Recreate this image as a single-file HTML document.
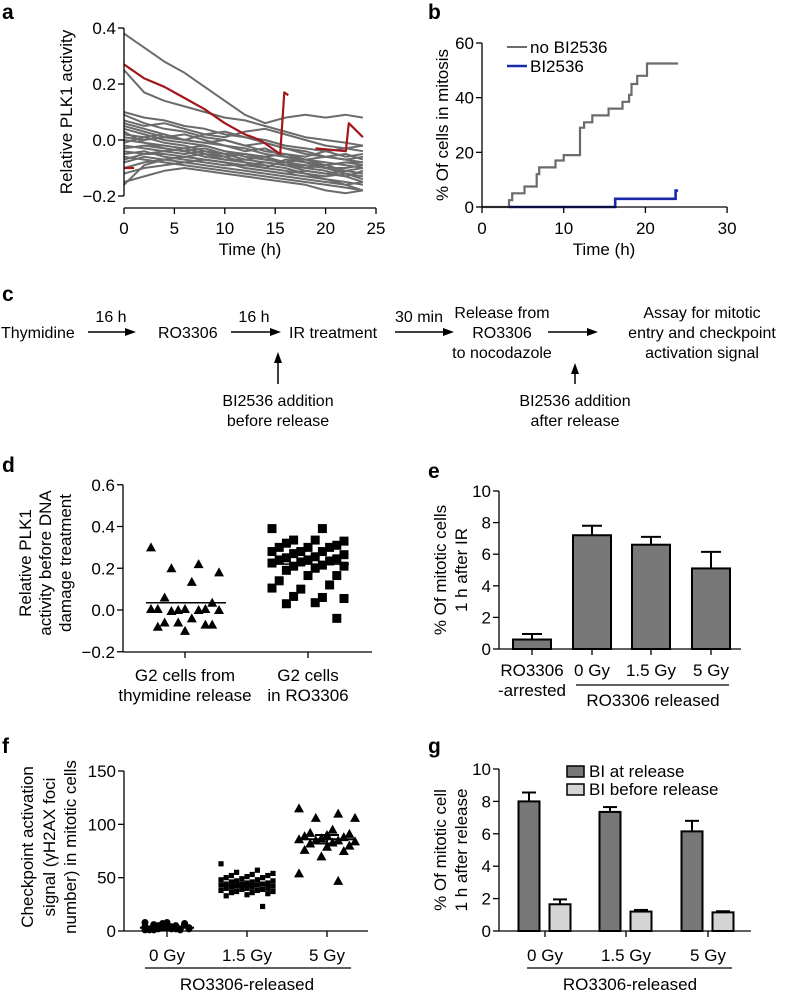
<!DOCTYPE html>
<html><head><meta charset="utf-8"><style>
html,body{margin:0;padding:0;background:#fff;}
svg{display:block;font-family:"Liberation Sans",Arial,sans-serif;}
</style></head><body>
<svg id="fig" width="788" height="993" viewBox="0 0 788 993" xmlns="http://www.w3.org/2000/svg">
<rect width="788" height="993" fill="#fff"/>
<g font-weight="bold" font-size="21" fill="#000">
<text x="2" y="19">a</text>
<text x="428" y="19">b</text>
<text x="2" y="301">c</text>
<text x="2" y="472">d</text>
<text x="428" y="478">e</text>
<text x="2" y="753">f</text>
<text x="428" y="753">g</text>
</g>
<!-- Panel c flow -->
<g font-size="16" fill="#000">
<text x="1" y="338">Thymidine</text>
<text x="111" y="322" text-anchor="middle">16 h</text>
<text x="158" y="338">RO3306</text>
<text x="254" y="322" text-anchor="middle">16 h</text>
<text x="289" y="338">IR treatment</text>
<text x="419" y="322" text-anchor="middle">30 min</text>
<text x="502" y="318" text-anchor="middle">Release from</text>
<text x="502" y="338" text-anchor="middle">RO3306</text>
<text x="502" y="358" text-anchor="middle">to nocodazole</text>
<text x="702" y="318" text-anchor="middle">Assay for mitotic</text>
<text x="702" y="338" text-anchor="middle">entry and checkpoint</text>
<text x="702" y="358" text-anchor="middle">activation signal</text>
<text x="278" y="406" text-anchor="middle">BI2536 addition</text>
<text x="278" y="426" text-anchor="middle">before release</text>
<text x="575" y="406" text-anchor="middle">BI2536 addition</text>
<text x="575" y="426" text-anchor="middle">after release</text>
<g stroke="#000" stroke-width="1.5" fill="#000">
<line x1="88" y1="332" x2="128" y2="332"/><path d="M136,332 L125,328 L125,336Z" stroke="none"/>
<line x1="231" y1="332" x2="273" y2="332"/><path d="M281,332 L270,328 L270,336Z" stroke="none"/>
<line x1="395" y1="332" x2="446" y2="332"/><path d="M454,332 L443,328 L443,336Z" stroke="none"/>
<line x1="548" y1="332" x2="590" y2="332"/><path d="M598,332 L587,328 L587,336Z" stroke="none"/>
<line x1="278" y1="384" x2="278" y2="360"/><path d="M278,352 L274,363 L282,363Z" stroke="none"/>
<line x1="575" y1="384" x2="575" y2="371"/><path d="M575,363 L571,374 L579,374Z" stroke="none"/>
</g>
</g>
<g id="pa"></g>
<g id="pb"></g>
<g id="pd"></g>
<g id="pe"></g>
<g id="pf"></g>
<g id="pg"></g>
</svg>
<script>
// ---------- Panel a data ----------
const aTimes = [0,2,4,6,8,10,12,14,16,18,20,22,23.7];
const aTraces = [
[0.38,0.33,0.28,0.24,0.19,0.14,0.09,0.06,0.08,0.09,0.08,0.09,0.08],
[0.25,0.17,0.14,0.12,0.10,0.08,0.07,0.05,0.03,0.01,0.00,-0.01,-0.02],
[0.10,0.08,0.07,0.05,0.04,0.02,0.01,0.00,-0.02,-0.03,-0.04,-0.06,-0.05],
[0.09,0.06,0.04,0.03,0.01,0.00,-0.02,-0.04,-0.05,-0.07,-0.08,-0.09,-0.10],
[0.07,0.05,0.06,0.04,0.02,0.03,0.01,-0.01,-0.03,-0.04,-0.06,-0.05,-0.07],
[0.05,0.03,0.01,0.02,0.00,-0.02,-0.03,-0.05,-0.06,-0.08,-0.09,-0.11,-0.12],
[0.04,0.02,0.00,-0.01,-0.02,-0.04,-0.05,-0.07,-0.08,-0.09,-0.10,-0.12,-0.13],
[0.02,0.01,0.02,0.00,-0.01,-0.02,-0.04,-0.03,-0.06,-0.07,-0.09,-0.08,-0.09],
[0.00,-0.01,-0.02,-0.03,-0.02,-0.04,-0.06,-0.07,-0.08,-0.10,-0.11,-0.13,-0.15],
[-0.01,0.01,-0.01,-0.02,-0.04,-0.05,-0.05,-0.06,-0.09,-0.11,-0.12,-0.11,-0.12],
[-0.02,-0.03,-0.04,-0.05,-0.04,-0.06,-0.08,-0.09,-0.10,-0.12,-0.14,-0.16,-0.18],
[-0.03,-0.02,-0.03,-0.04,-0.06,-0.07,-0.07,-0.08,-0.09,-0.09,-0.10,-0.10,-0.09],
[-0.04,-0.05,-0.05,-0.06,-0.07,-0.08,-0.10,-0.11,-0.12,-0.13,-0.14,-0.15,-0.16],
[-0.05,-0.04,-0.06,-0.07,-0.08,-0.09,-0.09,-0.10,-0.11,-0.12,-0.13,-0.12,-0.14],
[-0.06,-0.07,-0.08,-0.09,-0.10,-0.11,-0.12,-0.13,-0.14,-0.15,-0.16,-0.17,-0.18],
[-0.08,-0.06,-0.07,-0.08,-0.07,-0.08,-0.09,-0.08,-0.09,-0.10,-0.09,-0.08,-0.08],
[-0.10,-0.08,-0.07,-0.06,-0.05,-0.06,-0.05,-0.06,-0.05,-0.06,-0.04,-0.03,-0.02],
[-0.12,-0.10,-0.09,-0.08,-0.09,-0.10,-0.11,-0.12,-0.13,-0.14,-0.15,-0.16,-0.15],
[-0.15,-0.13,-0.11,-0.10,-0.11,-0.12,-0.13,-0.14,-0.15,-0.16,-0.18,-0.19,-0.18],
[-0.16,-0.09,-0.07,-0.06,-0.07,-0.08,-0.10,-0.11,-0.12,-0.11,-0.12,-0.13,-0.11],
[0.01,0.00,0.01,0.00,-0.01,0.00,-0.02,-0.01,-0.03,-0.05,-0.06,-0.07,-0.06],
[0.06,0.04,0.02,0.00,0.02,0.01,0.03,0.04,0.02,0.00,-0.02,-0.03,-0.04],
[0.03,-0.01,-0.03,-0.04,-0.03,-0.05,-0.07,-0.06,-0.08,-0.07,-0.06,-0.07,-0.08],
[-0.07,-0.05,-0.04,-0.03,-0.05,-0.07,-0.08,-0.10,-0.07,-0.08,-0.10,-0.11,-0.10]
];
const aRedT1 = [0,2,4,6,8,10,12,13.5,15.5,15.9,16.3];
const aRedV1 = [0.27,0.22,0.19,0.15,0.11,0.06,0.02,0.00,-0.05,0.17,0.16];
const aRedT2 = [19,22,22.3,23.7];
const aRedV2 = [-0.03,-0.04,0.06,0.01];
const aRedT3 = [0,1];
const aRedV3 = [-0.10,-0.10];
const aYTicks = [0.4,0.2,0.0,-0.2];
const aYTickLabels = ["0.4","0.2","0.0","\u22120.2"];
const aXTicks = [0,5,10,15,20,25];
// ---------- Panel b data ----------
const bNoT = [0,3.3,3.7,5.2,6.7,7.0,9.0,10.0,12.0,12.5,13.5,15.5,17.2,18.0,18.3,19.0,20.2,24.0];
const bNoV = [0,2.5,5,7.5,12,14.5,17,19,29,31,33.5,36,38.5,41,45,48,52.5,52.5];
const bBiT = [3.3,16.3,23.7,24.0];
const bBiV = [0,3,6,6];
const bYTicks = [0,20,40,60];
const bXTicks = [0,10,20,30];
// ---------- Panel d data ----------
const dCategories = ["G2 cells from|thymidine release","G2 cells|in RO3306"];
const dTriangles = [0.30,0.22,0.20,0.18,0.135,0.06,0.035,0.005,0.005,0.005,0.0,0.005,0.0,-0.005,0.0,-0.04,-0.06,-0.07,-0.10,-0.08,-0.07,-0.06];
const dSquares = [0.39,0.39,0.335,0.33,0.335,0.32,0.31,0.30,0.30,0.30,0.28,0.28,0.28,0.27,0.265,0.255,0.25,0.245,0.24,0.24,0.235,0.23,0.225,0.215,0.21,0.21,0.20,0.19,0.165,0.165,0.14,0.12,0.10,0.105,0.06,0.065,0.055,0.035,0.03,-0.04];
const dMeans = [0.035,0.22];
const dYTicks = [0.6,0.4,0.2,0.0,-0.2];
const dYTickLabels = ["0.6","0.4","0.2","0.0","\u22120.2"];
// ---------- Panel e data ----------
const eCategories = ["RO3306","0 Gy","1.5 Gy","5 Gy"];
const eValues = [0.6,7.2,6.6,5.1];
const eErrors = [0.35,0.6,0.5,1.05];
const eYTicks = [0,2,4,6,8,10];
// ---------- Panel f data ----------
const fCategories = ["0 Gy","1.5 Gy","5 Gy"];
const f0 = [1,2,3,2,4,5,6,3,2,1,7,8,4,5,3,2,6,7,8,1,2,3,4,5,2,3,4,1,6,5];
const f15 = [63,57,55,54,53,52,52,51,50,50,49,48,48,47,47,46,46,45,45,44,44,44,43,43,42,42,41,41,40,40,40,39,39,38,38,37,37,36,36,35,34,33,23];
const f5 = [115,110,106,106,95,92,91,90,89,88,87,86,85,85,84,83,82,80,79,76,75,70,54,47];
const fMeans = [3,43,86];
const fSem = [0.5,1,4];
const fYTicks = [0,50,100,150];
// ---------- Panel g data ----------
const gCategories = ["0 Gy","1.5 Gy","5 Gy"];
const gAtRelease = [8.0,7.35,6.15];
const gAtReleaseErr = [0.55,0.3,0.65];
const gBefore = [1.65,1.2,1.15];
const gBeforeErr = [0.3,0.1,0.07];
const gYTicks = [0,2,4,6,8,10];

const NS = "http://www.w3.org/2000/svg";
function mk(parent, tag, attrs, txt){
  const el = document.createElementNS(NS, tag);
  for (const k in attrs) el.setAttribute(k, attrs[k]);
  if (txt !== undefined) el.textContent = txt;
  parent.appendChild(el);
  return el;
}
function pts(xs, ys, fx, fy){ return xs.map((t,i)=>fx(t).toFixed(1)+","+fy(ys[i]).toFixed(1)).join(" "); }
function stepPts(xs, ys, fx, fy){
  let s = [];
  for (let i=0;i<xs.length;i++){
    if (i>0) s.push(fx(xs[i]).toFixed(1)+","+fy(ys[i-1]).toFixed(1));
    s.push(fx(xs[i]).toFixed(1)+","+fy(ys[i]).toFixed(1));
  }
  return s.join(" ");
}
function yAxis(g, x, fy, ticks, labels, name){
  const vals = ticks.map(fy);
  const ax = mk(g,'line',{x1:x,x2:x,y1:Math.min(...vals),y2:Math.max(...vals),stroke:'#000','stroke-width':1.3});
  
  
  ticks.forEach((v,i)=>{
    mk(g,'line',{x1:x-6,x2:x,y1:fy(v),y2:fy(v),stroke:'#000','stroke-width':1.3});
    const t = mk(g,'text',{x:x-8,y:fy(v)+6,'text-anchor':'end','font-size':17}, labels? labels[i] : String(v));
    
    
  });
}
function yTitle(g, lines, xs, cy, name){
  lines.forEach((l,i)=>{
    const t = mk(g,'text',{x:0,y:0,'text-anchor':'middle','font-size':17,transform:`translate(${xs[i]},${cy}) rotate(-90)`}, l);
    
    
  });
}
function scatterOffset(i, n, half){ return (((i*7)%11)-5)/5*half; }

// ---------- Panel a ----------
(function(){
  const g = document.getElementById('pa');
  const fx = t => 124 + t*10.08;
  const fy = v => 140 - v*280;
  aTraces.forEach(tr=>{
    const p = mk(g,'polyline',{points:pts(aTimes,tr,fx,fy),fill:'none',stroke:'#6b6b6b','stroke-width':2,'stroke-linejoin':'round'});
    
    
  });
  [[aRedT1,aRedV1],[aRedT2,aRedV2],[aRedT3,aRedV3]].forEach(([t,v])=>{
    const p = mk(g,'polyline',{points:pts(t,v,fx,fy),fill:'none',stroke:'#a3161a','stroke-width':2.2,'stroke-linejoin':'round'});
    
    
  });
  yAxis(g,124,fy,aYTicks,aYTickLabels,'panel-a');
  const xl = mk(g,'line',{x1:fx(0),x2:fx(25),y1:208,y2:208,stroke:'#000','stroke-width':1.3});
  
  
  aXTicks.forEach(t=>{
    mk(g,'line',{x1:fx(t),x2:fx(t),y1:208,y2:214,stroke:'#000','stroke-width':1.3});
    const tl = mk(g,'text',{x:fx(t),y:234,'text-anchor':'middle','font-size':17},String(t));
    
    
  });
  const xt = mk(g,'text',{x:250,y:255,'text-anchor':'middle','font-size':17},'Time (h)');
  
  
  yTitle(g,['Relative PLK1 activity'],[72],112,'panel-a');
})();

// ---------- Panel b ----------
(function(){
  const g = document.getElementById('pb');
  const fx = t => 482 + t*8.17;
  const fy = v => 207 - v*164/60;
  const pn = mk(g,'polyline',{points:stepPts(bNoT,bNoV,fx,fy),fill:'none',stroke:'#6b6b6b','stroke-width':2.2});
  
  
  const pb = mk(g,'polyline',{points:stepPts(bBiT,bBiV,fx,fy),fill:'none',stroke:'#1a2aa8','stroke-width':2.6});
  
  
  yAxis(g,482,fy,bYTicks,null,'panel-b');
  const xl = mk(g,'line',{x1:fx(0),x2:fx(30),y1:207,y2:207,stroke:'#000','stroke-width':1.3});
  
  
  bXTicks.forEach(t=>{
    mk(g,'line',{x1:fx(t),x2:fx(t),y1:207,y2:213,stroke:'#000','stroke-width':1.3});
    const tl = mk(g,'text',{x:fx(t),y:234,'text-anchor':'middle','font-size':17},String(t));
    
    
  });
  const xt = mk(g,'text',{x:604,y:255,'text-anchor':'middle','font-size':17},'Time (h)');
  
  
  yTitle(g,['% Of cells in mitosis'],[448],125,'panel-b');
  const l1 = mk(g,'line',{x1:507,x2:527,y1:47,y2:47,stroke:'#6b6b6b','stroke-width':2});
  
  
  const t1 = mk(g,'text',{x:530,y:53,'font-size':17},'no BI2536');
  
  
  const l2 = mk(g,'line',{x1:507,x2:527,y1:66,y2:66,stroke:'#1a2aa8','stroke-width':2.6});
  
  
  const t2 = mk(g,'text',{x:530,y:72,'font-size':17},'BI2536');
  
  
})();

// ---------- Panel d ----------
(function(){
  const g = document.getElementById('pd');
  const fy = v => 610 - v*208.75;
  const cx = [185,308];
  dTriangles.forEach((v,i)=>{
    const x = cx[0] + scatterOffset(i,dTriangles.length,34), y = fy(v);
    const p = mk(g,'path',{d:`M${x},${y-5} L${x+5},${y+4} L${x-5},${y+4}Z`,fill:'#000'});
    
    
  });
  dSquares.forEach((v,i)=>{
    const x = cx[1] + scatterOffset(i,dSquares.length,36), y = fy(v);
    const p = mk(g,'rect',{x:x-4.5,y:y-4.5,width:9,height:9,fill:'#000'});
    
    
  });
  dMeans.forEach((m,i)=>{
    const l = mk(g,'line',{x1:cx[i]-39,x2:cx[i]+41,y1:fy(m),y2:fy(m),stroke:'#000','stroke-width':1.5});
    
    
  });
  yAxis(g,123,fy,dYTicks,dYTickLabels,'panel-d');
  const xl = mk(g,'line',{x1:123,x2:372,y1:652,y2:652,stroke:'#000','stroke-width':1.3});
  
  
  dCategories.forEach((c,i)=>{
    mk(g,'line',{x1:cx[i],x2:cx[i],y1:652,y2:658,stroke:'#000','stroke-width':1.3});
    c.split('|').forEach((ln,j)=>{
      const t = mk(g,'text',{x:cx[i],y:681+j*20,'text-anchor':'middle','font-size':17},ln);
      
      
    });
  });
  yTitle(g,['Relative PLK1','activity before DNA','damage treatment'],[31,51,71],563,'panel-d');
})();

// ---------- Panel e ----------
(function(){
  const g = document.getElementById('pe');
  const fy = v => 649 - v*15.8;
  const cx = [532,592,651,711];
  eValues.forEach((v,i)=>{
    const top = fy(v+eErrors[i]);
    mk(g,'line',{x1:cx[i],x2:cx[i],y1:fy(v),y2:top,stroke:'#000','stroke-width':2});
    mk(g,'line',{x1:cx[i]-10,x2:cx[i]+10,y1:top,y2:top,stroke:'#000','stroke-width':2});
    const r = mk(g,'rect',{x:cx[i]-19,y:fy(v),width:38,height:649-fy(v),fill:'#787878',stroke:'#000','stroke-width':2});
    
    
  });
  yAxis(g,499,fy,eYTicks,null,'panel-e');
  const xl = mk(g,'line',{x1:499,x2:741,y1:649,y2:649,stroke:'#000','stroke-width':1.3});
  
  
  eCategories.forEach((c,i)=>{
    mk(g,'line',{x1:cx[i],x2:cx[i],y1:649,y2:655,stroke:'#000','stroke-width':1.3});
    const t = mk(g,'text',{x:cx[i],y:676,'text-anchor':'middle','font-size':17},c);
    
    
  });
  const t2 = mk(g,'text',{x:532,y:696,'text-anchor':'middle','font-size':17},'-arrested');
  
  
  const br = mk(g,'line',{x1:576,x2:729,y1:685,y2:685,stroke:'#000','stroke-width':1.3});
  
  
  const gl = mk(g,'text',{x:653,y:706,'text-anchor':'middle','font-size':17},'RO3306 released');
  
  
  yTitle(g,['% Of mitotic cells','1 h after IR'],[446,467],570,'panel-e');
})();

// ---------- Panel f ----------
(function(){
  const g = document.getElementById('pf');
  const fy = v => 931 - v*160/150;
  const cx = [167,247,327];
  f0.forEach((v,i)=>{
    const x = cx[0]+scatterOffset(i,f0.length,22), y = fy(v);
    const p = mk(g,'circle',{cx:x,cy:y,r:3.5,fill:'#000'});
    
    
  });
  f15.forEach((v,i)=>{
    const x = cx[1]+scatterOffset(i,f15.length,26), y = fy(v);
    const p = mk(g,'rect',{x:x-2.6,y:y-2.6,width:5.2,height:5.2,fill:'#000'});
    
    
  });
  f5.forEach((v,i)=>{
    const x = cx[2]+scatterOffset(i,f5.length,28), y = fy(v);
    const p = mk(g,'path',{d:`M${x},${y-5} L${x+5},${y+4} L${x-5},${y+4}Z`,fill:'#000'});
    
    
  });
  fMeans.forEach((m,i)=>{
    const l = mk(g,'line',{x1:cx[i]-27,x2:cx[i]+27,y1:fy(m),y2:fy(m),stroke:'#000','stroke-width':2});
    
    
    [m+fSem[i],m-fSem[i]].forEach(e=>mk(g,'line',{x1:cx[i]-12,x2:cx[i]+12,y1:fy(e),y2:fy(e),stroke:'#000','stroke-width':2}));
    mk(g,'line',{x1:cx[i],x2:cx[i],y1:fy(m+fSem[i]),y2:fy(m-fSem[i]),stroke:'#000','stroke-width':2});
  });
  yAxis(g,124,fy,fYTicks,null,'panel-f');
  const xl = mk(g,'line',{x1:124,x2:368,y1:931,y2:931,stroke:'#000','stroke-width':1.3});
  
  
  fCategories.forEach((c,i)=>{
    mk(g,'line',{x1:cx[i],x2:cx[i],y1:931,y2:937,stroke:'#000','stroke-width':1.3});
    const t = mk(g,'text',{x:cx[i],y:961,'text-anchor':'middle','font-size':17},c);
    
    
  });
  const br = mk(g,'line',{x1:145,x2:351,y1:968,y2:968,stroke:'#000','stroke-width':1.3});
  
  
  const gl = mk(g,'text',{x:247,y:990,'text-anchor':'middle','font-size':17},'RO3306-released');
  
  
  yTitle(g,['Checkpoint activation','signal (\u03B3H2AX foci','number) in mitotic cells'],[33,55,76],847,'panel-f');
})();

// ---------- Panel g ----------
(function(){
  const g = document.getElementById('pg');
  const fy = v => 931 - v*16.2;
  const cx = [545,626,708];
  function bar(x,v,e,fill,name){
    const top = fy(v+e);
    mk(g,'line',{x1:x,x2:x,y1:fy(v),y2:top,stroke:'#000','stroke-width':2});
    mk(g,'line',{x1:x-7,x2:x+7,y1:top,y2:top,stroke:'#000','stroke-width':2});
    const r = mk(g,'rect',{x:x-10.5,y:fy(v),width:21,height:931-fy(v),fill:fill,stroke:'#000','stroke-width':2});
    
    
  }
  gCategories.forEach((c,i)=>{
    bar(cx[i]-16,gAtRelease[i],gAtReleaseErr[i],'#787878','bar-bi-at-release');
    bar(cx[i]+15,gBefore[i],gBeforeErr[i],'#d4d4d4','bar-bi-before-release');
  });
  yAxis(g,499,fy,gYTicks,null,'panel-g');
  const xl = mk(g,'line',{x1:499,x2:751,y1:931,y2:931,stroke:'#000','stroke-width':1.3});
  
  
  gCategories.forEach((c,i)=>{
    mk(g,'line',{x1:cx[i],x2:cx[i],y1:931,y2:937,stroke:'#000','stroke-width':1.3});
    const t = mk(g,'text',{x:cx[i],y:961,'text-anchor':'middle','font-size':17},c);
    
    
  });
  const br = mk(g,'line',{x1:527,x2:732,y1:968,y2:968,stroke:'#000','stroke-width':1.3});
  
  
  const gl = mk(g,'text',{x:630,y:990,'text-anchor':'middle','font-size':17},'RO3306-released');
  
  
  const s1 = mk(g,'rect',{x:567,y:766,width:17,height:11,fill:'#787878',stroke:'#000','stroke-width':1.5});
  
  
  const t1 = mk(g,'text',{x:589,y:777,'font-size':17},'BI at release');
  
  
  const s2 = mk(g,'rect',{x:567,y:784,width:17,height:11,fill:'#d4d4d4',stroke:'#000','stroke-width':1.5});
  
  
  const t2 = mk(g,'text',{x:589,y:795,'font-size':17},'BI before release');
  
  
  yTitle(g,['% Of mitotic cell','1 h after release'],[446,467],850,'panel-g');
})();
</script>
</body></html>
